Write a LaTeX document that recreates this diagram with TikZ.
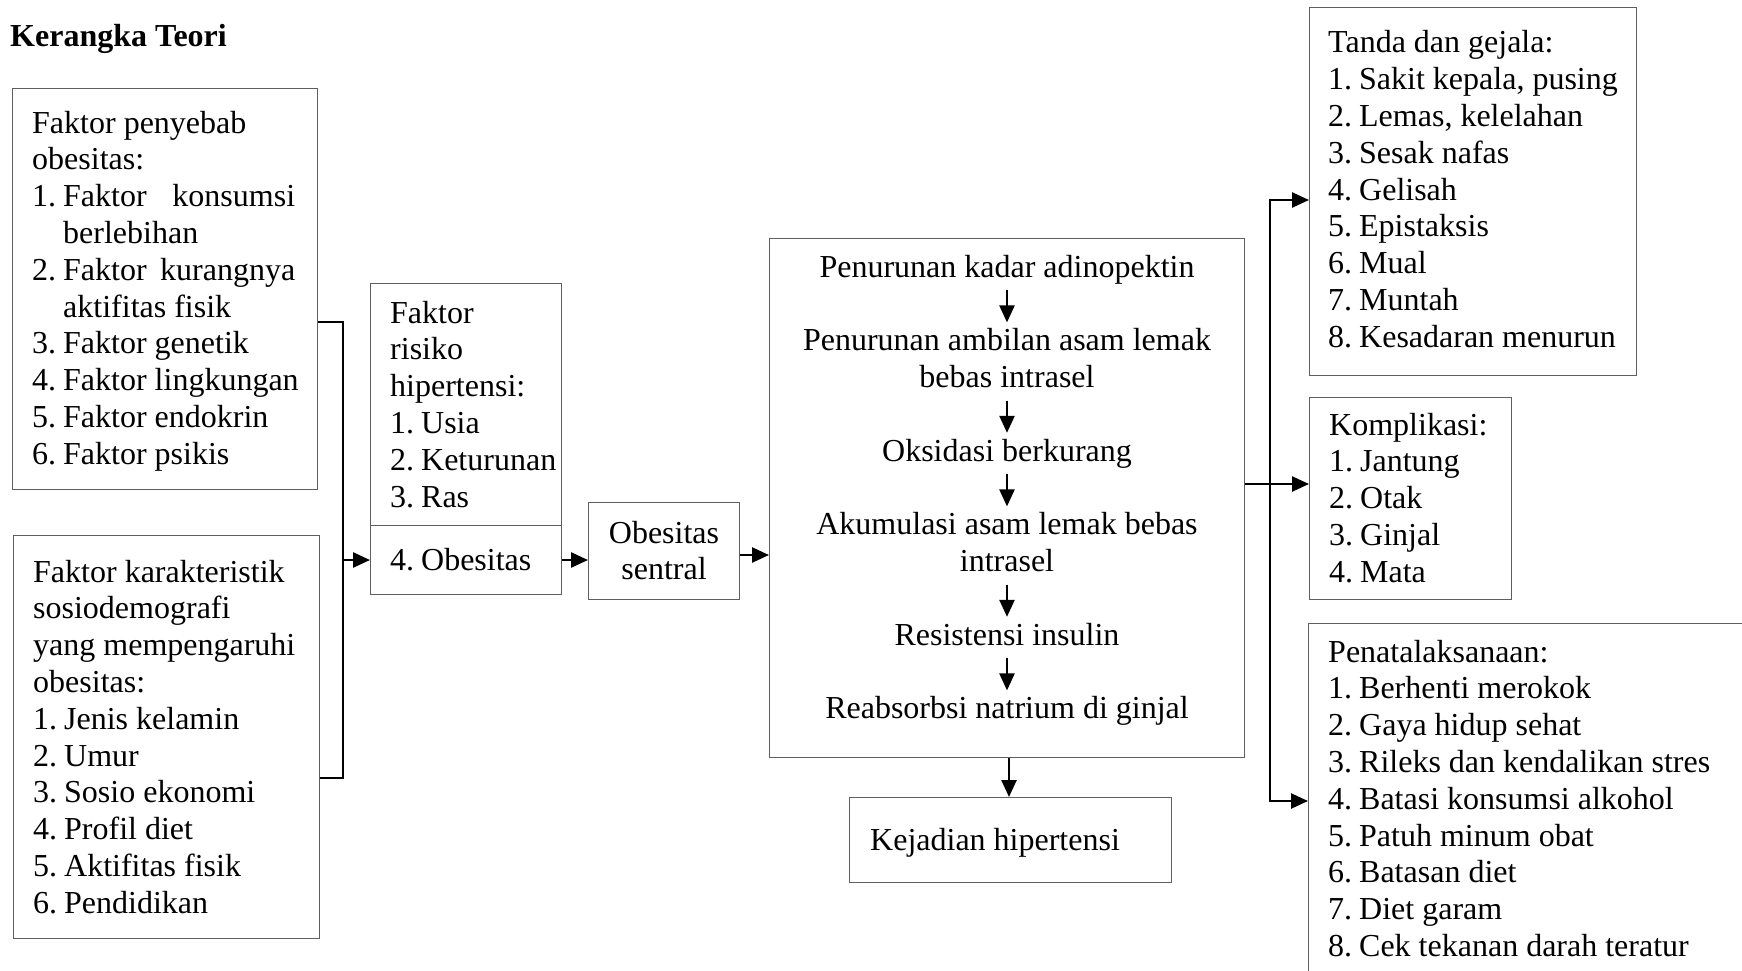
\documentclass[tikz,border=0pt]{standalone}
\usepackage{fontspec}
\setmainfont{Liberation Serif}
\usetikzlibrary{arrows.meta}
\newcommand{\lnum}[1]{\makebox[31pt][l]{#1}}
\definecolor{boxgray}{RGB}{95,95,95}
\tikzset{
  box/.style={draw=boxgray, line width=1.3pt, inner sep=0pt, anchor=north west},
  txt/.style={inner sep=0pt, anchor=base west, font=\fontsize{32}{36.8}\selectfont},
  ctr/.style={inner sep=0pt, anchor=base, font=\fontsize{32}{36.8}\selectfont, text height=22pt, text depth=7pt},
  conn/.style={line width=2.5pt},
  arr/.style={line width=2.5pt, -{Triangle[length=17pt,width=15pt]}},
  sarr/.style={arr, shorten <=6pt, shorten >=6pt},
}
\begin{document}
\begin{tikzpicture}[x=1pt,y=-1pt]
\useasboundingbox (0,0) rectangle (1742,971);
\clip (0,0) rectangle (1742,971);
\fill[white] (0,0) rectangle (1742,971);

% boxes
\node[box, minimum width=305pt, minimum height=401pt] (b1) at (12,88) {};
\node[box, minimum width=306pt, minimum height=403pt] (b2) at (13,535) {};
\node[box, minimum width=191pt, minimum height=242pt] (b3t) at (370,283) {};
\node[box, minimum width=191pt, minimum height=69pt] (b3b) at (370,525) {};
\node[box, minimum width=151pt, minimum height=97pt] (os) at (588,502) {};
\node[box, minimum width=475pt, minimum height=519pt] (mb) at (769,238) {};
\node[box, minimum width=322pt, minimum height=85pt] (kh) at (849,797) {};
\node[box, minimum width=327pt, minimum height=368pt] (tg) at (1309,7) {};
\node[box, minimum width=202pt, minimum height=202pt] (kp) at (1309,397) {};
\node[box, minimum width=600pt, minimum height=500pt] (pn) at (1308,623) {};

% title
\node[txt, font=\fontsize{32}{36.8}\selectfont\bfseries] (title) at (10,47) {Kerangka Teori};

% box texts
\node[txt] (t1) at (32,133) {\begin{tabular}[t]{@{}l@{}}
Faktor penyebab\\
obesitas:\\
\lnum{1.}\makebox[232pt][l]{Faktor\hfill konsumsi}\\
\lnum{}berlebihan\\
\lnum{2.}\makebox[232pt][l]{Faktor\hfill kurangnya}\\
\lnum{}aktifitas fisik\\
\lnum{3.}Faktor genetik\\
\lnum{4.}Faktor lingkungan\\
\lnum{5.}Faktor endokrin\\
\lnum{6.}Faktor psikis
\end{tabular}};

\node[txt] (t2) at (33,582) {\begin{tabular}[t]{@{}l@{}}
Faktor karakteristik\\
sosiodemografi\\
yang mempengaruhi\\
obesitas:\\
\lnum{1.}Jenis kelamin\\
\lnum{2.}Umur\\
\lnum{3.}Sosio ekonomi\\
\lnum{4.}Profil diet\\
\lnum{5.}Aktifitas fisik\\
\lnum{6.}Pendidikan
\end{tabular}};

\node[txt] (t3) at (390,323) {\begin{tabular}[t]{@{}l@{}}
Faktor\\
risiko\\
hipertensi:\\
\lnum{1.}Usia\\
\lnum{2.}Keturunan\\
\lnum{3.}Ras
\end{tabular}};
\node[txt] (t3b) at (390,570) {\lnum{4.}Obesitas};

\node[txt, anchor=base] (tos) at (664,543) {\begin{tabular}[t]{@{}c@{}}
Obesitas\\
sentral
\end{tabular}};

% main box steps
\node[ctr] (s1) at (1007,277) {Penurunan kadar adinopektin};
\node[ctr] (s2a) at (1007,350.6) {Penurunan ambilan asam lemak};
\node[ctr] (s2b) at (1007,387.4) {bebas intrasel};
\node[ctr] (s3) at (1007,461) {Oksidasi berkurang};
\node[ctr] (s4a) at (1007,534.6) {Akumulasi asam lemak bebas};
\node[ctr] (s4b) at (1007,571.4) {intrasel};
\node[ctr] (s5) at (1007,645) {Resistensi insulin};
\node[ctr] (s6) at (1007,718.6) {Reabsorbsi natrium di ginjal};

\draw[sarr] (s1.south) -- (s2a.north);
\draw[sarr] (s2b.south) -- (s3.north);
\draw[sarr] (s3.south) -- (s4a.north);
\draw[sarr] (s4b.south) -- (s5.north);
\draw[sarr] (s5.south) -- (s6.north);

\node[txt] (tkh) at (870,850) {Kejadian hipertensi};

\node[txt] (ttg) at (1328,53) {\begin{tabular}[t]{@{}l@{}}
Tanda dan gejala:\\
\lnum{1.}Sakit kepala, pusing\\
\lnum{2.}Lemas, kelelahan\\
\lnum{3.}Sesak nafas\\
\lnum{4.}Gelisah\\
\lnum{5.}Epistaksis\\
\lnum{6.}Mual\\
\lnum{7.}Muntah\\
\lnum{8.}Kesadaran menurun
\end{tabular}};

\node[txt] (tkp) at (1329,435) {\begin{tabular}[t]{@{}l@{}}
Komplikasi:\\
\lnum{1.}Jantung\\
\lnum{2.}Otak\\
\lnum{3.}Ginjal\\
\lnum{4.}Mata
\end{tabular}};

\node[txt] (tpn) at (1328,662) {\begin{tabular}[t]{@{}l@{}}
Penatalaksanaan:\\
\lnum{1.}Berhenti merokok\\
\lnum{2.}Gaya hidup sehat\\
\lnum{3.}Rileks dan kendalikan stres\\
\lnum{4.}Batasi konsumsi alkohol\\
\lnum{5.}Patuh minum obat\\
\lnum{6.}Batasan diet\\
\lnum{7.}Diet garam\\
\lnum{8.}Cek tekanan darah teratur
\end{tabular}};

% connectors left
\coordinate (j1) at (343,322);
\coordinate (j2) at (343,778);
\coordinate (j3) at (343,560);
\draw[conn] (b1.east |- j1) -- (j1) -- (j2) -- (b2.east |- j2);
\draw[arr] (j3) -- (j3 -| b3b.west);
\draw[arr] (b3b.east |- j3) -- (j3 -| os.west);
\coordinate (j4) at (750,555);
\draw[arr] (j4 -| os.east) -- (j4 -| mb.west);
\coordinate (j5) at (1009,780);
\draw[arr] (j5 |- mb.south) -- (j5 |- kh.north);

% connectors right
\coordinate (r1) at (1270,200);
\coordinate (r2) at (1270,484);
\coordinate (r3) at (1270,801);
\draw[arr] (r2) -- (r1) -- (r1 -| tg.west);
\draw[arr] (r2) -- (r3) -- (r3 -| pn.west);
\draw[arr] (r2 -| mb.east) -- (r2 -| kp.west);
\end{tikzpicture}
\end{document}
